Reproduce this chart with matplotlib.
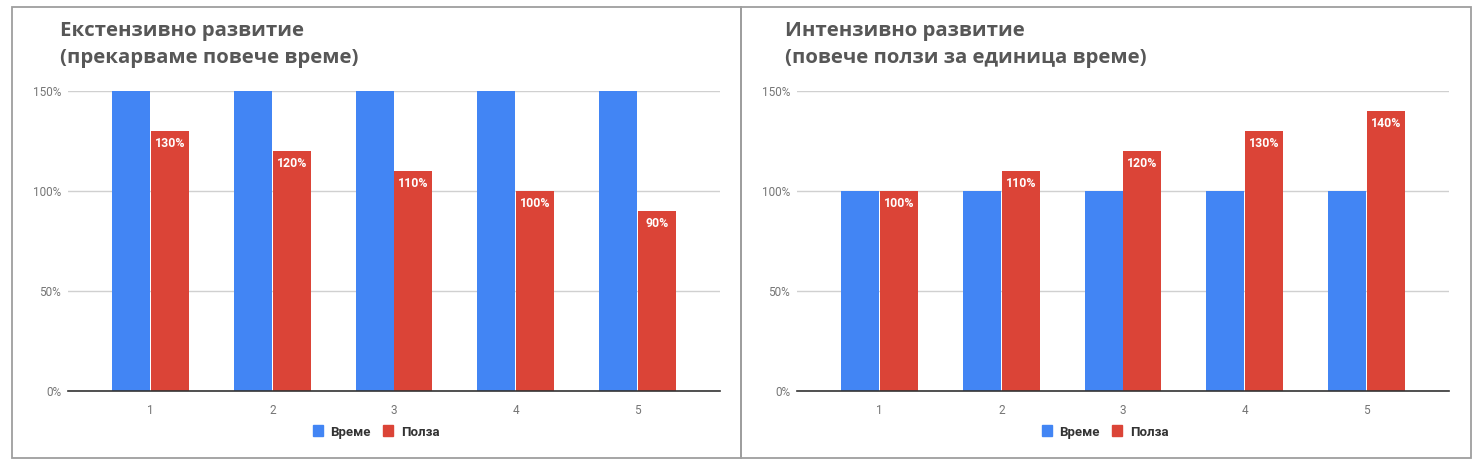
import matplotlib
matplotlib.use("Agg")
import matplotlib.pyplot as plt
from matplotlib.patches import Rectangle, Patch

# data
categories = ["1", "2", "3", "4", "5"]
series_names = ["Време", "Полза"]
ext_time = [150, 150, 150, 150, 150]
ext_benefit = [130, 120, 110, 100, 90]
int_time = [100, 100, 100, 100, 100]
int_benefit = [100, 110, 120, 130, 140]
titles = [
    "Екстензивно развитие\n(прекарваме повече време)",
    "Интензивно развитие\n(повече ползи за единица време)",
]
yticks = [0, 50, 100, 150]

BLUE = "#4285f4"
RED = "#db4437"
W, H = 1481, 472

plt.rcParams["font.family"] = ["Roboto", "DejaVu Sans"]

fig = plt.figure(figsize=(W / 100, H / 100), dpi=100)


def fx(px):
    return px / W


def fy(py):
    return 1 - py / H


# panel frames
for x0, x1 in [(12, 741), (741, 1471)]:
    fig.patches.append(Rectangle((fx(x0), fy(458)), fx(x1 - x0), (458 - 7) / H,
                                 transform=fig.transFigure, fill=False,
                                 edgecolor="#9e9e9e", linewidth=1.3))


def draw_panel(left_px, time_vals, benefit_vals, title, title_x):
    ax = fig.add_axes([fx(left_px), fy(391), fx(652), 300 / H])
    pos = range(len(categories))
    bw = 0.312
    off = bw / 2 + 0.004
    ax.bar([p - off for p in pos], time_vals, bw, color=BLUE, zorder=3)
    bars = ax.bar([p + off for p in pos], benefit_vals, bw, color=RED, zorder=3)
    for b, v in zip(bars, benefit_vals):
        ax.text(b.get_x() + b.get_width() / 2, v - 3, f"{v}%", ha="center", va="top",
                color="white", fontsize=8.8, fontweight="bold", zorder=4)
    ax.set_xlim(-0.68, len(categories) - 1 + 0.68)
    ax.set_ylim(0, 150)
    ax.set_yticks(yticks)
    ax.set_yticklabels([f"{t}%" for t in yticks])
    ax.set_xticks(list(pos))
    ax.set_xticklabels(categories)
    ax.tick_params(length=0, labelsize=8.5, labelcolor="#757575")
    ax.tick_params(axis="y", pad=5)
    ax.tick_params(axis="x", pad=9)
    ax.grid(axis="y", color="#d0d0d0", linewidth=1, zorder=0)
    for s in ["top", "right", "left"]:
        ax.spines[s].set_visible(False)
    ax.spines["bottom"].set_color("#333333")
    ax.spines["bottom"].set_linewidth(1.2)
    ax.spines["bottom"].set_zorder(5)
    fig.text(fx(title_x), fy(21), title, ha="left", va="top", fontsize=14.7,
             fontweight="bold", color="#575757", family=["Open Sans", "DejaVu Sans"],
             linespacing=1.47)
    handles = [Patch(color=BLUE, label=series_names[0]),
               Patch(color=RED, label=series_names[1])]
    ax.legend(handles=handles, loc="center", ncol=2, frameon=False,
              bbox_to_anchor=(fx(left_px + 308), fy(432)), bbox_transform=fig.transFigure,
              prop={"size": 9.5, "weight": "bold"}, handlelength=0.75, handleheight=0.9,
              handletextpad=0.6, columnspacing=0.9, labelcolor="#333333")
    return ax


draw_panel(68, ext_time, ext_benefit, titles[0], 60)
draw_panel(797, int_time, int_benefit, titles[1], 785)

fig.savefig("out.png", dpi=100)
